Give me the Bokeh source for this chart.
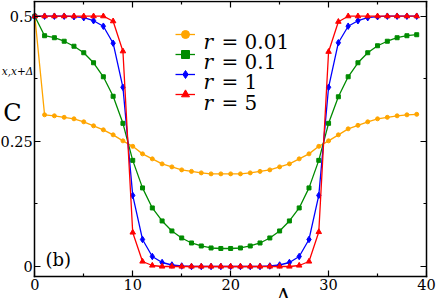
from bokeh.plotting import figure
from bokeh.models import (FixedTicker, LinearAxis, Label, Legend, LegendItem, Range1d)
from bokeh.embed import file_html
from bokeh.resources import INLINE

# ---- data ----
delta = list(range(40))

r001 = [0.5, 0.303, 0.301, 0.298, 0.295, 0.289, 0.281, 0.273, 0.263, 0.251,
        0.240, 0.225, 0.215, 0.205, 0.199, 0.193, 0.190, 0.187, 0.185, 0.185,
        0.185, 0.185, 0.187, 0.190, 0.193, 0.199, 0.205, 0.215, 0.225, 0.240,
        0.251, 0.263, 0.275, 0.282, 0.289, 0.295, 0.298, 0.301, 0.303, 0.304]

r01 = [0.5, 0.461, 0.457, 0.450, 0.440, 0.427, 0.407, 0.379, 0.340, 0.286,
       0.212, 0.157, 0.117, 0.091, 0.071, 0.057, 0.047, 0.041, 0.037, 0.036,
       0.036, 0.037, 0.041, 0.047, 0.057, 0.071, 0.091, 0.117, 0.157, 0.212,
       0.286, 0.339, 0.379, 0.407, 0.427, 0.441, 0.450, 0.457, 0.461, 0.463]

r1 = [0.5, 0.5, 0.5, 0.5, 0.499, 0.497, 0.491, 0.480, 0.446, 0.358,
      0.142, 0.054, 0.020, 0.008, 0.003, 0.001, 0.0, 0.0, 0.0, 0.0,
      0.0, 0.0, 0.0, 0.0, 0.001, 0.003, 0.008, 0.020, 0.054, 0.142,
      0.358, 0.447, 0.480, 0.491, 0.497, 0.499, 0.5, 0.5, 0.5, 0.5]

r5 = [0.5, 0.5, 0.5, 0.5, 0.5, 0.5, 0.5, 0.5, 0.490, 0.430,
      0.068, 0.010, 0.002, 0.0, 0.0, 0.0, 0.0, 0.0, 0.0, 0.0,
      0.0, 0.0, 0.0, 0.0, 0.0, 0.0, 0.0, 0.002, 0.010, 0.069,
      0.429, 0.489, 0.5, 0.5, 0.5, 0.5, 0.5, 0.5, 0.5, 0.5]

series_labels = ["= 0.01", "= 0.1", "= 1", "= 5"]
series_values = [r001, r01, r1, r5]
series_colors = ["#ffa500", "#008b00", "#0000ff", "#ff0000"]
series_markers = ["circle", "square", "diamond", "triangle"]
series_sizes = [4, 4, 6.5, 5.5]

x_ticks = [0, 10, 20, 30, 40]
x_minor = [5, 15, 25, 35]
y_ticks = [0, 0.25, 0.5]
y_minor = [0.125, 0.375]
y_tick_labels = {0: "0", 0.25: "0.25", 0.5: "0.5"}

# axis box (data units)
X0, X1 = 0, 40
Y0, Y1 = -0.0194, 0.5284

W, H = 436, 298
FONT = "DejaVu Serif"

p = figure(width=W, height=H, output_backend="svg", toolbar_location=None,
           x_range=Range1d(-3.5027, 41.0212), y_range=Range1d(-0.06392, 0.53136),
           min_border=0, x_axis_location=None, y_axis_location=None)
p.grid.visible = False
p.outline_line_color = None
p.background_fill_color = "white"
p.border_fill_color = "white"

def make_axis(loc, bounds, ticks, minor, show_labels):
    ax = LinearAxis(fixed_location=loc, bounds=bounds)
    ax.ticker = FixedTicker(ticks=ticks, minor_ticks=minor)
    ax.axis_line_color = "black"
    ax.axis_line_width = 1.5
    ax.axis_line_cap = "square"
    ax.major_tick_in = 6
    ax.major_tick_out = 0
    ax.minor_tick_in = 3
    ax.minor_tick_out = 0
    ax.major_tick_line_width = 1.2
    ax.minor_tick_line_width = 1.2
    ax.major_tick_line_color = "black"
    ax.minor_tick_line_color = "black"
    if show_labels:
        ax.major_label_text_font = FONT
        ax.major_label_text_font_size = "14.5px"
        ax.major_label_text_color = "black"
        ax.major_label_standoff = 3
    else:
        ax.major_label_text_font_size = "1px"
        ax.major_label_text_color = None
        ax.major_label_standoff = 0
    return ax

bottom_ax = make_axis(Y0, (X0, X1), x_ticks, x_minor, True)
p.add_layout(bottom_ax, "below")
left_ax = make_axis(X0, (Y0, Y1), y_ticks, y_minor, True)
left_ax.major_label_overrides = y_tick_labels
left_ax.major_label_standoff = 2
p.add_layout(left_ax, "left")
top_ax = make_axis(Y1, (X0, X1), x_ticks, x_minor, False)
p.add_layout(top_ax, "above")
right_ax = make_axis(X1, (Y0, Y1), y_ticks, y_minor, False)
p.add_layout(right_ax, "right")

items = []
for lab, vals, col, mk, sz in zip(series_labels, series_values, series_colors,
                                   series_markers, series_sizes):
    lr = p.line(delta, vals, line_color=col, line_width=1.3)
    sr = p.scatter(delta, vals, marker=mk, size=sz, fill_color=col, line_color=col)
    items.append(LegendItem(label=" ", renderers=[lr, sr]))

legend = Legend(items=items, location=(175, 194), padding=0, margin=0,
                spacing=0, glyph_width=20, glyph_height=20, label_height=20,
                label_width=1, label_text_font_size="15px", label_text_color=None,
                border_line_alpha=0, background_fill_alpha=0)
p.add_layout(legend, "center")

# legend texts (screen px from the bottom-left corner)
row_base = [256.3, 236.3, 216.3, 195.7]
for lab, yb in zip(series_labels, row_base):
    p.add_layout(Label(x=203, y=yb, x_units="screen", y_units="screen", text="r",
                       text_font=FONT, text_font_style="italic",
                       text_font_size="20px", text_baseline="alphabetic",
                       text_align="left", text_color="black"))
    p.add_layout(Label(x=221, y=yb, x_units="screen", y_units="screen", text=lab,
                       text_font=FONT, text_font_size="20px",
                       text_baseline="alphabetic", text_align="left",
                       text_color="black"))

# y-axis label C_{x,x+Δ} (horizontal: rotated text is not rendered here)
p.add_layout(Label(x=12, y=186, x_units="screen", y_units="screen", text="C",
                   text_font=FONT, text_font_size="24px", text_align="center",
                   text_baseline="alphabetic", text_color="black"))
p.add_layout(Label(x=17, y=228, x_units="screen", y_units="screen", text="x,x+Δ",
                   text_font=FONT, text_font_style="italic", text_font_size="10.5px",
                   text_align="center", text_baseline="alphabetic",
                   text_color="black"))

# x-axis label Δ
p.add_layout(Label(x=283, y=3, x_units="screen", y_units="screen", text="Δ",
                   text_font=FONT, text_font_size="20px", text_align="center",
                   text_baseline="alphabetic", text_color="black"))

# panel tag
p.add_layout(Label(x=45, y=39.5, x_units="screen", y_units="screen", text="(b)",
                   text_font=FONT, text_font_size="18px", text_align="left",
                   text_baseline="middle", text_color="black"))

open("out.html", "w").write(file_html(p, INLINE))
